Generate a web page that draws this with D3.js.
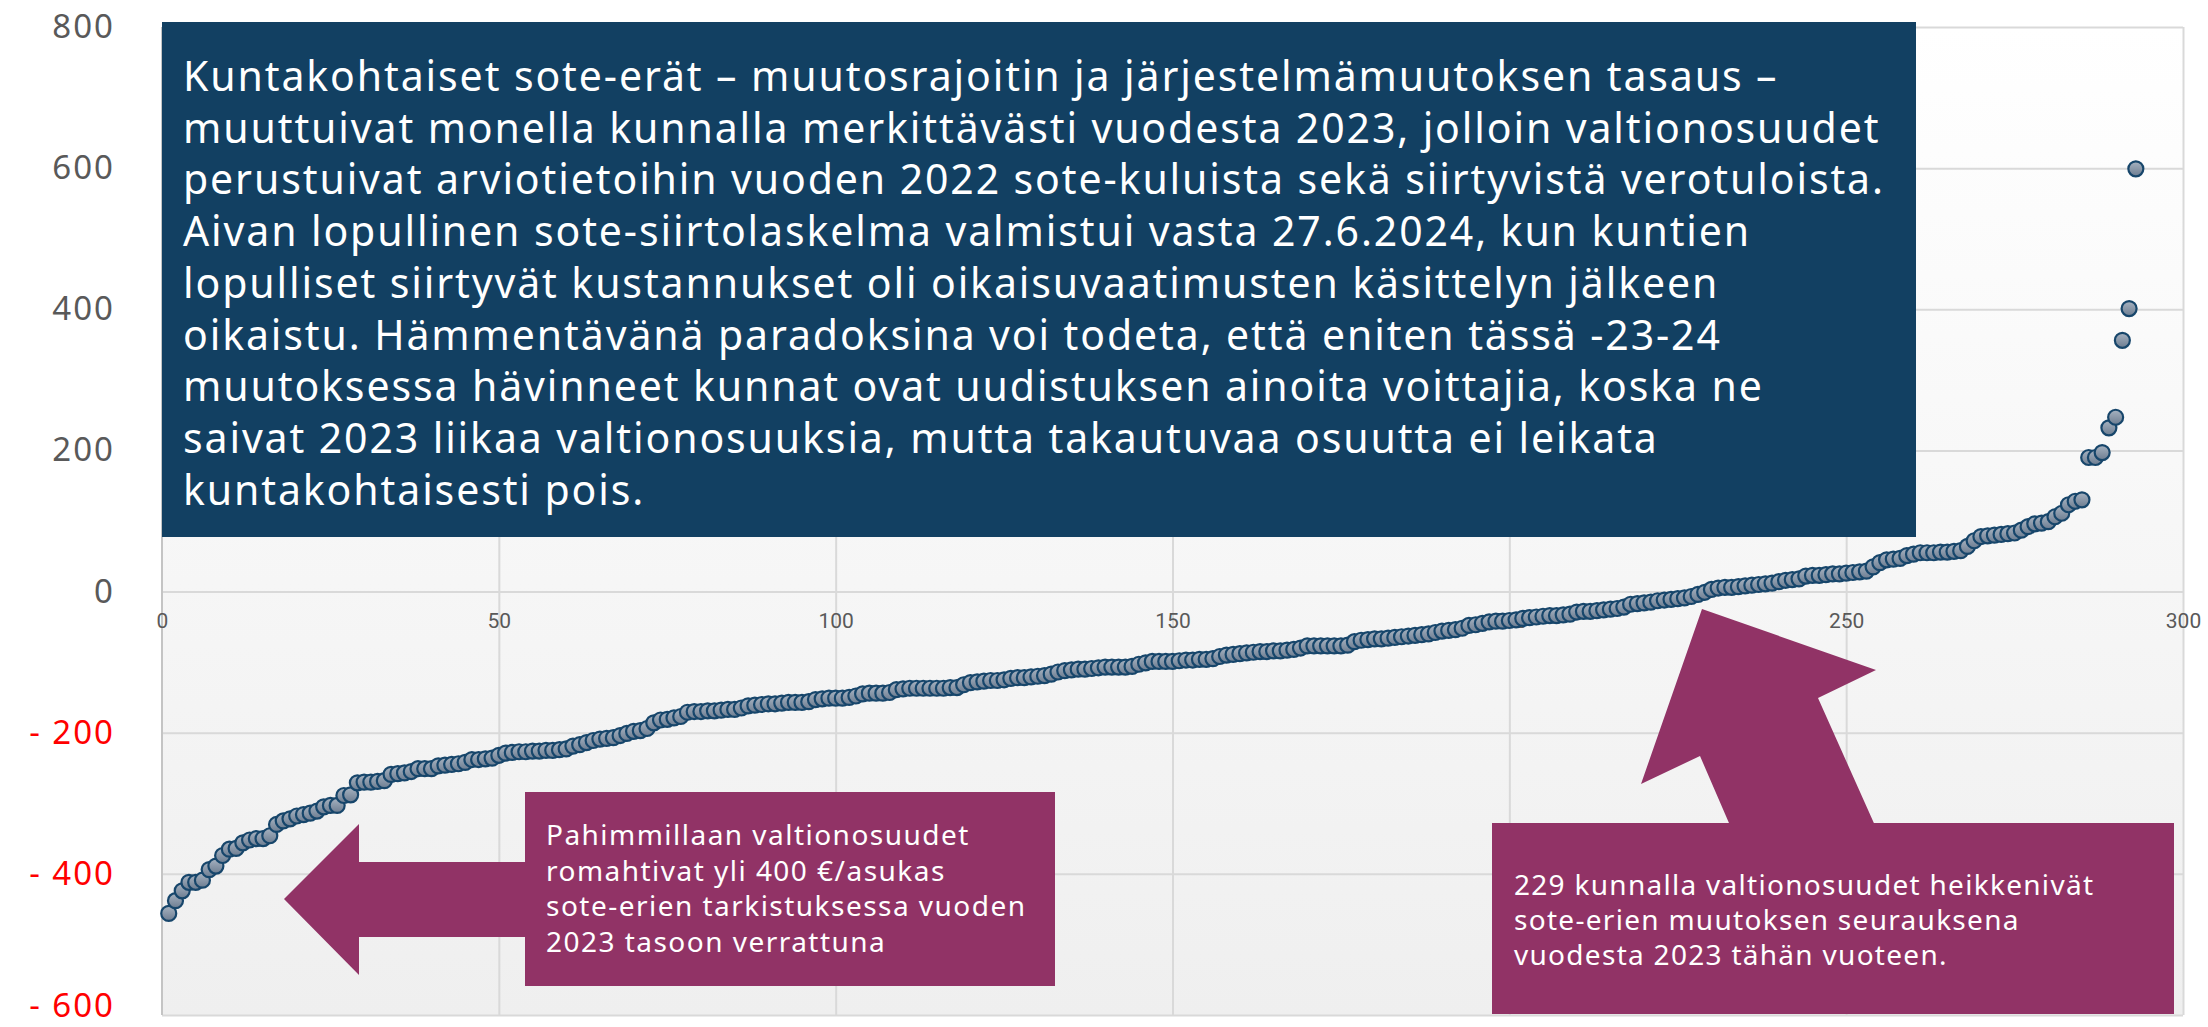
<!DOCTYPE html>
<html>
<head>
<meta charset="utf-8">
<script src="https://cdn.jsdelivr.net/npm/d3@7"></script>
<style>
  body { margin: 0; background: #ffffff; }
  svg { display: block; }
</style>
</head>
<body>
<div id="chart"></div>
<script>
// Kuntakohtainen sote-erien muutos (€/asukas), kunnat järjestettynä pienimmästä suurimpaan
var muutos = [
  -456, -438, -424, -412, -412, -409, -394, -389, -374, -365,
  -364, -356, -352, -350, -350, -346, -330, -325, -322, -318,
  -316, -314, -311, -305, -303, -303, -289, -288, -271, -270,
  -270, -269, -268, -259, -258, -257, -255, -251, -251, -251,
  -247, -246, -245, -244, -242, -238, -238, -237, -236, -232,
  -229, -228, -227, -227, -226, -226, -225, -225, -224, -223,
  -219, -217, -214, -211, -209, -208, -207, -204, -201, -198,
  -197, -194, -186, -182, -181, -179, -177, -171, -170, -170,
  -169, -169, -168, -167, -167, -165, -162, -161, -160, -159,
  -159, -158, -157, -157, -157, -156, -153, -152, -151, -151,
  -151, -150, -148, -145, -144, -144, -144, -143, -139, -138,
  -137, -137, -137, -137, -137, -137, -136, -136, -132, -129,
  -128, -127, -126, -126, -125, -123, -122, -122, -121, -120,
  -119, -117, -114, -112, -111, -110, -110, -109, -108, -107,
  -107, -107, -107, -106, -103, -101, -99, -99, -99, -99,
  -98, -97, -97, -96, -96, -95, -92, -90, -89, -88,
  -87, -86, -85, -85, -84, -84, -83, -82, -80, -77,
  -77, -77, -77, -77, -77, -76, -71, -69, -68, -67,
  -67, -66, -65, -64, -63, -62, -61, -60, -58, -56,
  -55, -54, -52, -48, -47, -45, -43, -42, -42, -41,
  -40, -38, -37, -36, -35, -34, -34, -33, -32, -29,
  -28, -28, -27, -26, -25, -24, -22, -18, -17, -16,
  -15, -13, -12, -11, -10, -9, -7, -4, -1, 3,
  5, 6, 6, 7, 8, 9, 10, 11, 12, 14,
  16, 17, 18, 22, 23, 23, 24, 25, 25, 26,
  27, 28, 29, 35, 41, 45, 46, 47, 51, 53,
  55, 55, 55, 56, 56, 57, 58, 64, 72, 78,
  79, 80, 81, 82, 83, 87, 92, 96, 97, 99,
  106, 111, 123, 128, 130, 190, 190, 197, 232, 247,
  356, 401, 599
];

var xTicks = [0, 50, 100, 150, 200, 250, 300];
var yTicks = [-600, -400, -200, 0, 200, 400, 600, 800];

var otsikkoRivit = [
  "Kuntakohtaiset sote-erät – muutosrajoitin ja järjestelmämuutoksen tasaus –",
  "muuttuivat monella kunnalla merkittävästi vuodesta 2023, jolloin valtionosuudet",
  "perustuivat arviotietoihin vuoden 2022 sote-kuluista sekä siirtyvistä verotuloista.",
  "Aivan lopullinen sote-siirtolaskelma valmistui vasta 27.6.2024, kun kuntien",
  "lopulliset siirtyvät kustannukset oli oikaisuvaatimusten käsittelyn jälkeen",
  "oikaistu. Hämmentävänä paradoksina voi todeta, että eniten tässä -23-24",
  "muutoksessa hävinneet kunnat ovat uudistuksen ainoita voittajia, koska ne",
  "saivat 2023 liikaa valtionosuuksia, mutta takautuvaa osuutta ei leikata",
  "kuntakohtaisesti pois."
];
var vasenRivit = [
  "Pahimmillaan valtionosuudet",
  "romahtivat yli 400 €/asukas",
  "sote-erien tarkistuksessa vuoden",
  "2023 tasoon verrattuna"
];
var oikeaRivit = [
  "229 kunnalla valtionosuudet heikkenivät",
  "sote-erien muutoksen seurauksena",
  "vuodesta 2023 tähän vuoteen."
];

var data = muutos.map(function(v, i) { return { x: i + 1, y: v }; });

// Set up chart
var svgWidth = 2208;
var svgHeight = 1027;
var plot = { left: 162, right: 2183, top: 27, bottom: 1015 };

var svg = d3.select("#chart")
  .append("svg")
  .attr("width", svgWidth)
  .attr("height", svgHeight);

var defs = svg.append("defs");
var bg = defs.append("linearGradient")
  .attr("id", "bgGrad")
  .attr("x1", 0).attr("y1", 0).attr("x2", 0).attr("y2", 1);
bg.append("stop").attr("offset", "0%").attr("stop-color", "#ffffff");
bg.append("stop").attr("offset", "100%").attr("stop-color", "#efefef");

var dot = defs.append("linearGradient")
  .attr("id", "dotGrad")
  .attr("x1", 0).attr("y1", 0).attr("x2", 0).attr("y2", 1);
dot.append("stop").attr("offset", "0%").attr("stop-color", "#a7b3c1");
dot.append("stop").attr("offset", "100%").attr("stop-color", "#6d7d91");

// Scales
var xScale = d3.scaleLinear().domain([0, 300]).range([plot.left, plot.right]);
var yScale = d3.scaleLinear().domain([-600, 800]).range([plot.bottom, plot.top]);

// Plot background
svg.append("rect")
  .attr("x", plot.left)
  .attr("y", plot.top)
  .attr("width", plot.right - plot.left)
  .attr("height", plot.bottom - plot.top)
  .attr("fill", "url(#bgGrad)");

// Gridlines
var xGrid = svg.append("g")
  .attr("transform", `translate(0, ${plot.bottom})`)
  .call(d3.axisBottom(xScale).tickValues(xTicks.slice(1)).tickSize(-(plot.bottom - plot.top)).tickFormat(""));
var yGrid = svg.append("g")
  .attr("transform", `translate(${plot.left}, 0)`)
  .call(d3.axisLeft(yScale).tickValues(yTicks).tickSize(-(plot.right - plot.left)).tickFormat(""));
svg.selectAll(".domain").remove();
xGrid.selectAll("line").attr("stroke", "#d9d9d9").attr("stroke-width", 2);
yGrid.selectAll("line").attr("stroke", "#d9d9d9").attr("stroke-width", 2);

// Left axis line
svg.append("line")
  .attr("x1", plot.left).attr("x2", plot.left)
  .attr("y1", plot.top).attr("y2", plot.bottom)
  .attr("stroke", "#c4c4c4")
  .attr("stroke-width", 2);

// Y axis labels
var leftAxis = d3.axisLeft(yScale)
  .tickValues(yTicks)
  .tickSize(0)
  .tickPadding(47)
  .tickFormat(function(d) { return d < 0 ? "- " + Math.abs(d) : d; });
var yAxisG = svg.append("g")
  .attr("transform", `translate(${plot.left}, 0)`)
  .call(leftAxis);
yAxisG.select(".domain").remove();
yAxisG.selectAll("text")
  .style("font-family", "'Noto Sans', sans-serif")
  .style("font-size", "33px")
  .style("letter-spacing", "2px")
  .attr("fill", function(d) { return d < 0 ? "#ff0000" : "#595959"; })
  .attr("dy", function(d) { return d === -600 ? "0.05em" : "0.32em"; });

// X axis labels (axis crosses at 0)
var bottomAxis = d3.axisBottom(xScale).tickValues(xTicks).tickSize(0).tickPadding(22);
var xAxisG = svg.append("g")
  .attr("transform", `translate(0, ${yScale(0)})`)
  .call(bottomAxis);
xAxisG.select(".domain").remove();
xAxisG.selectAll("text")
  .style("font-family", "Roboto, sans-serif")
  .style("font-size", "21px")
  .attr("fill", "#595959");

// Points
svg.append("g")
  .selectAll("circle")
  .data(data)
  .enter()
  .append("circle")
  .attr("cx", d => xScale(d.x))
  .attr("cy", d => yScale(d.y))
  .attr("r", 7.5)
  .attr("fill", "url(#dotGrad)")
  .attr("stroke", "#17466b")
  .attr("stroke-width", 2.2);

// stretch letter spacing so one line of a block reaches the width seen in the picture
function fitWidth(textSel, lineIndex, targetWidth) {
  var node = textSel.selectAll("tspan").nodes()[lineIndex];
  var w = node.getComputedTextLength();
  var n = node.textContent.length;
  textSel.style("letter-spacing", ((targetWidth - w) / (n - 1)) + "px");
}

// Dark text box
svg.append("rect")
  .attr("x", 162).attr("y", 22)
  .attr("width", 1916 - 162).attr("height", 537 - 22)
  .attr("fill", "#124062");
var otsikko = svg.append("text")
  .attr("fill", "#ffffff")
  .style("font-family", "'Noto Sans', sans-serif")
  .style("font-size", "41px");
otsikko.selectAll("tspan")
  .data(otsikkoRivit)
  .enter()
  .append("tspan")
  .attr("x", 183)
  .attr("y", (d, i) => 91 + i * 51.7)
  .text(d => d);
fitWidth(otsikko, 2, 1700);

// Magenta annotations
var magenta = "#913366";

svg.append("polygon")
  .attr("points", [[284, 899], [359, 824], [359, 862], [540, 862], [540, 937], [359, 937], [359, 975]].join(" "))
  .attr("fill", magenta);
svg.append("rect")
  .attr("x", 525).attr("y", 792)
  .attr("width", 1055 - 525).attr("height", 986 - 792)
  .attr("fill", magenta);
var vasen = svg.append("text")
  .attr("fill", "#ffffff")
  .style("font-family", "'Noto Sans', sans-serif")
  .style("font-size", "28px");
vasen.selectAll("tspan")
  .data(vasenRivit)
  .enter()
  .append("tspan")
  .attr("x", 546)
  .attr("y", (d, i) => 845 + i * 35.5)
  .text(d => d);
fitWidth(vasen, 2, 479);

svg.append("polygon")
  .attr("points", [[1702, 609], [1876, 670], [1818, 698], [1877, 830], [1732, 830], [1700, 756], [1641, 784]].join(" "))
  .attr("fill", magenta);
svg.append("rect")
  .attr("x", 1492).attr("y", 823)
  .attr("width", 2174 - 1492).attr("height", 1014 - 823)
  .attr("fill", magenta);
var oikea = svg.append("text")
  .attr("fill", "#ffffff")
  .style("font-family", "'Noto Sans', sans-serif")
  .style("font-size", "28px");
oikea.selectAll("tspan")
  .data(oikeaRivit)
  .enter()
  .append("tspan")
  .attr("x", 1514)
  .attr("y", (d, i) => 895 + i * 35)
  .text(d => d);
fitWidth(oikea, 0, 579);
</script>
</body>
</html>
